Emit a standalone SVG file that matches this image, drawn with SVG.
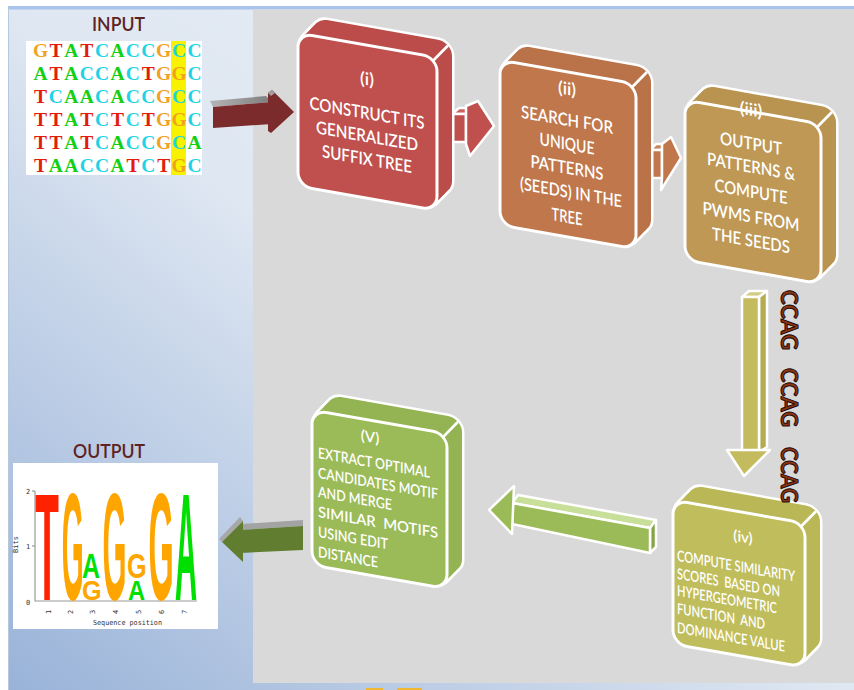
<svg xmlns="http://www.w3.org/2000/svg" xmlns:xlink="http://www.w3.org/1999/xlink" width="854" height="690" viewBox="0 0 854 690">
<defs>
  <linearGradient id="bg" gradientUnits="userSpaceOnUse" x1="0" y1="690" x2="560" y2="0">
    <stop offset="0" stop-color="#98b2d8"/>
    <stop offset="0.6" stop-color="#dfe7f2"/>
    <stop offset="1" stop-color="#e6edf5"/>
  </linearGradient>
  <linearGradient id="grayTop" x1="0" y1="0" x2="1" y2="0">
    <stop offset="0" stop-color="#b5b5b5"/>
    <stop offset="1" stop-color="#7d7d7d"/>
  </linearGradient>
  <clipPath id="seqClip"><rect x="26" y="41" width="176" height="134"/></clipPath>
  <rect id="r1" width="139" height="153" rx="14"/>
  <rect id="r2" width="136" height="165" rx="14"/>
  <rect id="r3" width="136" height="160" rx="14"/>
  <rect id="r4" width="132" height="144" rx="14"/>
  <rect id="r5" width="135" height="155" rx="14"/>
  <style>
    .seq{font-family:"Liberation Serif",serif;font-weight:bold;font-size:19.5px;text-anchor:middle}
    .G{fill:#f2a21e}.T{fill:#e11d0c}.A{fill:#14d014}.C{fill:#1fd3e6}
    .lbl{font-family:Lato,"Liberation Sans",sans-serif;font-size:19px;font-weight:600;fill:#5e2222}
    .bt{font-family:Lato,"Liberation Sans",sans-serif;font-size:17.5px;font-weight:600;fill:#ffffff;text-anchor:middle}
    .bs{font-family:Lato,"Liberation Sans",sans-serif;font-size:15px;font-weight:600;fill:#ffffff}
    .bsc{font-family:Lato,"Liberation Sans",sans-serif;font-size:15px;font-weight:600;fill:#ffffff;text-anchor:middle}
    .edge{stroke:#ffffff;stroke-width:2.5;fill:none}
    .face{stroke:#ffffff;stroke-width:3}
    .logo{font-family:"Liberation Sans",sans-serif;font-weight:bold;font-size:30px}
    .ax{stroke:#9a9a9a;stroke-width:1.2;fill:none}
    .tiny{font-family:"DejaVu Sans Mono",monospace;font-size:7px;fill:#333}
    .ccag{font-family:Lato,"Liberation Sans",sans-serif;font-weight:bold;font-size:22px;fill:#8e3516;stroke:#1e0a04;stroke-width:1}
    .arw{stroke:#ffffff;stroke-width:2.5;stroke-linejoin:round}
  </style>
</defs>

<!-- background -->
<rect x="0" y="0" width="854" height="690" fill="#ffffff"/>
<rect x="8" y="8" width="846" height="682" fill="url(#bg)"/>
<rect x="8" y="6" width="846" height="3.5" fill="#a8c4ea"/>
<line x1="8.5" y1="8" x2="8.5" y2="690" stroke="#b7c7dc" stroke-width="1"/>
<rect x="253" y="9.5" width="601" height="673.5" fill="#d9d9d9"/>
<rect x="366" y="688" width="17" height="2" fill="#f0b830"/>
<rect x="397" y="688" width="25" height="2" fill="#f0b830"/>

<!-- input -->
<g id="input">
  <text class="lbl" x="92" y="31" textLength="53" lengthAdjust="spacingAndGlyphs">INPUT</text>
  <rect x="26" y="41" width="176" height="134" fill="#ffffff"/>
  <rect x="171" y="41" width="15" height="134" fill="#f8f200"/>
  <g clip-path="url(#seqClip)">
    <text class="seq" y="57"><tspan x="40.5" class="G">G</tspan><tspan x="55.9" class="T">T</tspan><tspan x="71.3" class="A">A</tspan><tspan x="86.7" class="T">T</tspan><tspan x="102.1" class="C">C</tspan><tspan x="117.5" class="A">A</tspan><tspan x="132.9" class="C">C</tspan><tspan x="148.3" class="C">C</tspan><tspan x="163.7" class="G">G</tspan><tspan x="179.1" class="C">C</tspan><tspan x="194.5" class="C">C</tspan></text>
    <text class="seq" y="80"><tspan x="40.5" class="A">A</tspan><tspan x="55.9" class="T">T</tspan><tspan x="71.3" class="A">A</tspan><tspan x="86.7" class="C">C</tspan><tspan x="102.1" class="C">C</tspan><tspan x="117.5" class="A">A</tspan><tspan x="132.9" class="C">C</tspan><tspan x="148.3" class="T">T</tspan><tspan x="163.7" class="G">G</tspan><tspan x="179.1" class="G">G</tspan><tspan x="194.5" class="C">C</tspan></text>
    <text class="seq" y="103"><tspan x="40.5" class="T">T</tspan><tspan x="55.9" class="C">C</tspan><tspan x="71.3" class="A">A</tspan><tspan x="86.7" class="A">A</tspan><tspan x="102.1" class="C">C</tspan><tspan x="117.5" class="A">A</tspan><tspan x="132.9" class="C">C</tspan><tspan x="148.3" class="C">C</tspan><tspan x="163.7" class="G">G</tspan><tspan x="179.1" class="C">C</tspan><tspan x="194.5" class="C">C</tspan></text>
    <text class="seq" y="126"><tspan x="40.5" class="T">T</tspan><tspan x="55.9" class="T">T</tspan><tspan x="71.3" class="A">A</tspan><tspan x="86.7" class="T">T</tspan><tspan x="102.1" class="C">C</tspan><tspan x="117.5" class="T">T</tspan><tspan x="132.9" class="C">C</tspan><tspan x="148.3" class="T">T</tspan><tspan x="163.7" class="G">G</tspan><tspan x="179.1" class="G">G</tspan><tspan x="194.5" class="C">C</tspan></text>
    <text class="seq" y="149"><tspan x="40.5" class="T">T</tspan><tspan x="55.9" class="T">T</tspan><tspan x="71.3" class="A">A</tspan><tspan x="86.7" class="T">T</tspan><tspan x="102.1" class="C">C</tspan><tspan x="117.5" class="A">A</tspan><tspan x="132.9" class="C">C</tspan><tspan x="148.3" class="C">C</tspan><tspan x="163.7" class="G">G</tspan><tspan x="179.1" class="C">C</tspan><tspan x="194.5" class="A">A</tspan></text>
    <text class="seq" y="172"><tspan x="40.5" class="T">T</tspan><tspan x="55.9" class="A">A</tspan><tspan x="71.3" class="A">A</tspan><tspan x="86.7" class="C">C</tspan><tspan x="102.1" class="C">C</tspan><tspan x="117.5" class="A">A</tspan><tspan x="132.9" class="T">T</tspan><tspan x="148.3" class="C">C</tspan><tspan x="163.7" class="T">T</tspan><tspan x="179.1" class="G">G</tspan><tspan x="194.5" class="C">C</tspan></text>
  </g>
</g>

<!-- output -->
<g id="output">
  <text class="lbl" x="73" y="458" textLength="72" lengthAdjust="spacingAndGlyphs">OUTPUT</text>
  <rect x="13" y="463" width="205" height="166" fill="#ffffff"/>
  <polyline class="ax" points="35,491 35,601 197,601"/>
  <line class="ax" x1="32" y1="491" x2="35" y2="491"/>
  <line class="ax" x1="32" y1="546" x2="35" y2="546"/>
  <text class="tiny" x="26" y="494">2</text>
  <text class="tiny" x="26" y="549">1</text>
  <text class="tiny" x="26" y="605">0</text>
  <text class="tiny" transform="translate(18,553) rotate(-90)">Bits</text>
  <g class="tiny">
    <text transform="translate(51,614) rotate(-90)">1</text>
    <text transform="translate(73,614) rotate(-90)">2</text>
    <text transform="translate(95,614) rotate(-90)">3</text>
    <text transform="translate(118,614) rotate(-90)">4</text>
    <text transform="translate(141,614) rotate(-90)">5</text>
    <text transform="translate(164,614) rotate(-90)">6</text>
    <text transform="translate(187,614) rotate(-90)">7</text>
  </g>
  <text class="tiny" x="93" y="625" textLength="69" lengthAdjust="spacingAndGlyphs">Sequence position</text>
  <g class="logo">
    <text transform="matrix(1.29 0 0 5.07 35.2 600)" fill="#ff2200">T</text>
    <text transform="matrix(0.94 0 0 5.07 61.7 600)" fill="#ffa500">G</text>
    <text transform="matrix(0.83 0 0 1.16 82 578)" fill="#00e000">A</text>
    <text transform="matrix(0.84 0 0 0.93 81.9 600)" fill="#ffa500">G</text>
    <text transform="matrix(1.03 0 0 5.07 102.6 600)" fill="#ffa500">G</text>
    <text transform="matrix(0.84 0 0 1.16 126.9 578)" fill="#ffa500">G</text>
    <text transform="matrix(0.79 0 0 0.93 128 600)" fill="#00e000">A</text>
    <text transform="matrix(1.08 0 0 5.07 148.5 600)" fill="#ffa500">G</text>
    <text transform="matrix(1.02 0 0 5.07 175 600)" fill="#00e000">A</text>
  </g>
</g>

<!-- connectors -->
<g id="connectors">
  <g id="arrow-input-i">
    <polygon points="210,101 266,96 272,102 213,107" fill="url(#grayTop)"/>
    <polygon points="213,107 272,102 272,124 213,128" fill="#7b2b2b"/>
    <polygon points="268,93 272,90 294,112 271,133 268,131" fill="#7b2b2b"/>
    <polygon points="268,93 272,90 275,93 271,96" fill="#a0a0a0"/>
  </g>
  <g id="arrow-i-ii" class="arw">
    <polygon points="452,114 459,108 472,108 466,114" fill="#cc615e"/>
    <rect x="452" y="114" width="14" height="28" fill="#c0504d"/>
    <polygon points="466,106 478,101 494,126 470,156 466,144" fill="#c0504d"/>
  </g>
  <g id="arrow-ii-iii" class="arw">
    <polygon points="650,150 656,144 667,144 662,150" fill="#c9845a"/>
    <rect x="650" y="150" width="12" height="28" fill="#c0774b"/>
    <polygon points="662,144 671,137 681,158 661,190 662,178" fill="#c0774b"/>
  </g>
  <g id="arrow-iii-iv" class="arw">
    <polygon points="742,297 749,291 767,291 759,297" fill="#d2cd80"/>
    <polygon points="759,297 767,291 767,447 759,452" fill="#b3ac52"/>
    <rect x="742" y="297" width="17" height="155" fill="#c3bb5d"/>
    <polygon points="727,450 770,450 744,476" fill="#c3bb5d"/>
  </g>
  <g id="arrow-iv-v" class="arw">
    <polygon points="512,503 518,495 656,520 650,528" fill="#c8df9a"/>
    <polygon points="650,528 656,520 656,547 650,553" fill="#86a446"/>
    <polygon points="512,503 650,528 650,553 512,524" fill="#9bbb59"/>
    <polygon points="489,510 514,486 512,534" fill="#9bbb59"/>
  </g>
  <g id="arrow-v-output">
    <polygon points="242,524 303,520 303,526 240,530" fill="#a3a3a3"/>
    <polygon points="240,530 303,526 303,550 240,553" fill="#617d30"/>
    <polygon points="219,539 240,517 243,521 222,542" fill="#a8a8a8"/>
    <polygon points="222,542 243,521 243,562" fill="#617d30"/>
  </g>
</g>

<!-- box (i) -->
<g id="box-i" transform="translate(298,33) skewY(10)">
  <g fill="#bb4c49">
    <g stroke="#ffffff" stroke-width="5">
      <use href="#r1" x="2.5" y="-3"/><use href="#r1" x="5" y="-6"/><use href="#r1" x="7.5" y="-9"/><use href="#r1" x="10" y="-12"/><use href="#r1" x="12.5" y="-15"/><use href="#r1" x="15" y="-18"/>
    </g>
    <use href="#r1" x="2.5" y="-3"/><use href="#r1" x="5" y="-6"/><use href="#r1" x="7.5" y="-9"/><use href="#r1" x="10" y="-12"/><use href="#r1" x="12.5" y="-15"/><use href="#r1" x="15" y="-18"/>
  </g>
  <line class="edge" x1="135" y1="4" x2="150" y2="-14"/>
  <use href="#r1" class="face" fill="#c0504d"/>
  <text class="bt" x="69" y="40" font-size="19">(i)</text>
  <text class="bt" x="69" y="74" textLength="115" lengthAdjust="spacingAndGlyphs">CONSTRUCT ITS</text>
  <text class="bt" x="69" y="97" textLength="102" lengthAdjust="spacingAndGlyphs">GENERALIZED</text>
  <text class="bt" x="69" y="120" textLength="90" lengthAdjust="spacingAndGlyphs">SUFFIX TREE</text>
</g>

<!-- box (ii) -->
<g id="box-ii" transform="translate(500,60) skewY(10)">
  <g fill="#ba7248">
    <g stroke="#ffffff" stroke-width="5">
      <use href="#r2" x="2.5" y="-3"/><use href="#r2" x="5" y="-6"/><use href="#r2" x="7.5" y="-9"/><use href="#r2" x="10" y="-12"/><use href="#r2" x="12.5" y="-15"/><use href="#r2" x="15" y="-18"/>
    </g>
    <use href="#r2" x="2.5" y="-3"/><use href="#r2" x="5" y="-6"/><use href="#r2" x="7.5" y="-9"/><use href="#r2" x="10" y="-12"/><use href="#r2" x="12.5" y="-15"/><use href="#r2" x="15" y="-18"/>
  </g>
  <line class="edge" x1="132" y1="4" x2="147" y2="-14"/>
  <use href="#r2" class="face" fill="#c0774b"/>
  <text class="bt" x="67" y="23" font-size="19">(ii)</text>
  <text class="bt" x="67" y="54" textLength="92" lengthAdjust="spacingAndGlyphs">SEARCH FOR</text>
  <text class="bt" x="67" y="78" textLength="55" lengthAdjust="spacingAndGlyphs">UNIQUE</text>
  <text class="bt" x="67" y="102" textLength="73" lengthAdjust="spacingAndGlyphs">PATTERNS</text>
  <text class="bt" x="71" y="126" textLength="102" lengthAdjust="spacingAndGlyphs">(SEEDS) IN THE</text>
  <text class="bt" x="67" y="151" textLength="31" lengthAdjust="spacingAndGlyphs">TREE</text>
</g>

<!-- box (iii) -->
<g id="box-iii" transform="translate(685,100) skewY(10)">
  <g fill="#b99350">
    <g stroke="#ffffff" stroke-width="5">
      <use href="#r3" x="2.5" y="-3"/><use href="#r3" x="5" y="-6"/><use href="#r3" x="7.5" y="-9"/><use href="#r3" x="10" y="-12"/><use href="#r3" x="12.5" y="-15"/><use href="#r3" x="15" y="-18"/>
    </g>
    <use href="#r3" x="2.5" y="-3"/><use href="#r3" x="5" y="-6"/><use href="#r3" x="7.5" y="-9"/><use href="#r3" x="10" y="-12"/><use href="#r3" x="12.5" y="-15"/><use href="#r3" x="15" y="-18"/>
  </g>
  <line class="edge" x1="132" y1="4" x2="147" y2="-14"/>
  <use href="#r3" class="face" fill="#be9854"/>
  <text class="bt" x="66" y="4" font-size="18">(iii)</text>
  <text class="bt" x="66" y="38" textLength="62" lengthAdjust="spacingAndGlyphs">OUTPUT</text>
  <text class="bt" x="66" y="61" textLength="88" lengthAdjust="spacingAndGlyphs">PATTERNS &amp;</text>
  <text class="bt" x="66" y="86" textLength="73" lengthAdjust="spacingAndGlyphs">COMPUTE</text>
  <text class="bt" x="66" y="111" textLength="97" lengthAdjust="spacingAndGlyphs">PWMS FROM</text>
  <text class="bt" x="66" y="135" textLength="78" lengthAdjust="spacingAndGlyphs">THE SEEDS</text>
</g>

<!-- box (iv) -->
<g id="box-iv" transform="translate(673,500) skewY(10)">
  <g fill="#b9b756">
    <g stroke="#ffffff" stroke-width="5">
      <use href="#r4" x="2.5" y="-3"/><use href="#r4" x="5" y="-6"/><use href="#r4" x="7.5" y="-9"/><use href="#r4" x="10" y="-12"/><use href="#r4" x="12.5" y="-15"/><use href="#r4" x="15" y="-18"/>
    </g>
    <use href="#r4" x="2.5" y="-3"/><use href="#r4" x="5" y="-6"/><use href="#r4" x="7.5" y="-9"/><use href="#r4" x="10" y="-12"/><use href="#r4" x="12.5" y="-15"/><use href="#r4" x="15" y="-18"/>
  </g>
  <line class="edge" x1="128" y1="4" x2="143" y2="-14"/>
  <use href="#r4" class="face" fill="#bfbd5c"/>
  <text class="bsc" x="70" y="30">(iv)</text>
  <text class="bs" x="4" y="60" textLength="118" lengthAdjust="spacingAndGlyphs">COMPUTE SIMILARITY</text>
  <text class="bs" x="4" y="78" textLength="103" lengthAdjust="spacingAndGlyphs" xml:space="preserve">SCORES  BASED ON</text>
  <text class="bs" x="4" y="95" textLength="100" lengthAdjust="spacingAndGlyphs">HYPERGEOMETRIC</text>
  <text class="bs" x="4" y="113" textLength="88" lengthAdjust="spacingAndGlyphs" xml:space="preserve">FUNCTION  AND</text>
  <text class="bs" x="4" y="132" textLength="108" lengthAdjust="spacingAndGlyphs">DOMINANCE VALUE</text>
</g>

<!-- box (v) -->
<g id="box-v" transform="translate(312,410) skewY(10)">
  <g fill="#94b453">
    <g stroke="#ffffff" stroke-width="5">
      <use href="#r5" x="2.5" y="-3"/><use href="#r5" x="5" y="-6"/><use href="#r5" x="7.5" y="-9"/><use href="#r5" x="10" y="-12"/><use href="#r5" x="12.5" y="-15"/><use href="#r5" x="15" y="-18"/>
    </g>
    <use href="#r5" x="2.5" y="-3"/><use href="#r5" x="5" y="-6"/><use href="#r5" x="7.5" y="-9"/><use href="#r5" x="10" y="-12"/><use href="#r5" x="12.5" y="-15"/><use href="#r5" x="15" y="-18"/>
  </g>
  <line class="edge" x1="131" y1="4" x2="146" y2="-14"/>
  <use href="#r5" class="face" fill="#9bbb59"/>
  <text class="bsc" x="58" y="22" font-size="16">(V)</text>
  <text class="bs" x="6" y="47" textLength="112" lengthAdjust="spacingAndGlyphs">EXTRACT OPTIMAL</text>
  <text class="bs" x="6" y="67" textLength="120" lengthAdjust="spacingAndGlyphs">CANDIDATES MOTIF</text>
  <text class="bs" x="6" y="86" textLength="74" lengthAdjust="spacingAndGlyphs">AND MERGE</text>
  <text class="bs" x="6" y="106" textLength="120" lengthAdjust="spacingAndGlyphs" xml:space="preserve">SIMILAR  MOTIFS</text>
  <text class="bs" x="6" y="126" textLength="70" lengthAdjust="spacingAndGlyphs">USING EDIT</text>
  <text class="bs" x="6" y="146" textLength="60" lengthAdjust="spacingAndGlyphs">DISTANCE</text>
</g>

<!-- CCAG labels -->
<g id="ccag-labels">
  <text class="ccag" transform="translate(781,290) rotate(90)" textLength="60" lengthAdjust="spacingAndGlyphs">CCAG</text>
  <text class="ccag" transform="translate(781,368) rotate(90)" textLength="59" lengthAdjust="spacingAndGlyphs">CCAG</text>
  <text class="ccag" transform="translate(781,447) rotate(90)" textLength="56" lengthAdjust="spacingAndGlyphs">CCAG</text>
</g>
</svg>
